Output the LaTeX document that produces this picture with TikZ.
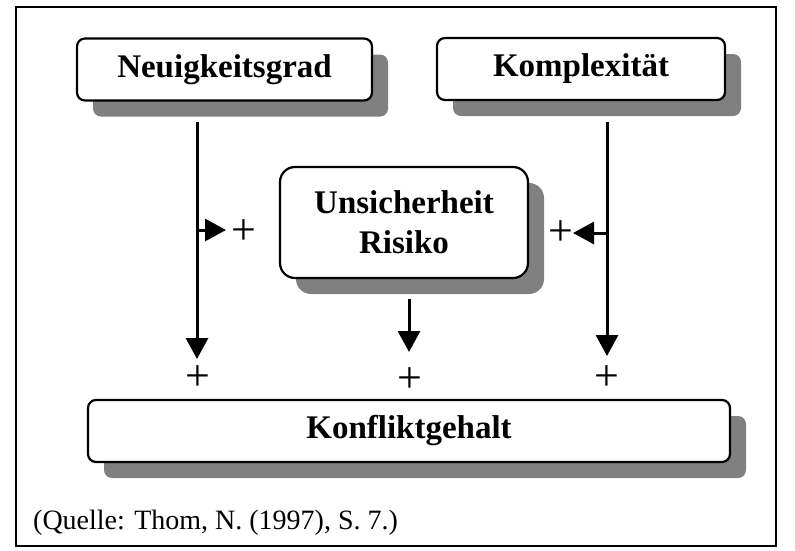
\documentclass[tikz,border=0pt]{standalone}
\usepackage{fontspec}
\setmainfont{Liberation Serif}
\usetikzlibrary{arrows.meta,positioning,shadows}
\tikzset{
  nb/.style={draw, fill=white, line width=2.2pt, rounded corners=8pt, align=center,
             font=\fontsize{33}{40}\selectfont\bfseries, inner sep=0pt,
             drop shadow={shadow xshift=16pt, shadow yshift=-16pt, fill=black!50, opacity=1}},
  nplus/.style={inner sep=0pt, font=\fontsize{44}{46}\selectfont},
  ar/.style={-{Triangle[length=21pt,width=22pt]}, line width=3pt},
}

\begin{document}
\begin{tikzpicture}[x=1pt,y=-1pt]
  \useasboundingbox (0,0) rectangle (795,550);
  \draw[line width=1.6pt] (16,7) rectangle (776,546);

  % boxes
  \node[nb, minimum width=295pt, minimum height=62pt] (neu) at (224.5,69.5) {Neuigkeitsgrad};
  \node[nb, minimum width=288pt, minimum height=62pt] (kom) at (581,69) {Komplexität};
  \node[nb, minimum width=248pt, minimum height=111pt, rounded corners=15pt] (uns) at (404,222.5) {Unsicherheit\\Risiko};
  \node[nb, minimum width=642pt, minimum height=62pt] (kon) at (409,431) {Konfliktgehalt};

  % arrow ends
  \coordinate (la) at (197,122);
  \coordinate (lb) at (197,359);
  \coordinate (ls) at (197,230);
  \coordinate (lt) at (226,230);
  \coordinate (ma) at (409,299);
  \coordinate (mb) at (409,352);
  \coordinate (ra) at (607,122);
  \coordinate (rb) at (607,356);
  \coordinate (rs) at (607,233);
  \coordinate (rt) at (573,233);

  \draw[ar] (la) -- (lb);
  \draw[ar] (ls) -- (lt);
  \draw[ar] (ma) -- (mb);
  \draw[ar] (ra) -- (rb);
  \draw[ar] (rs) -- (rt);

  % signs
  \node[nplus] (p1) at (198,378) {+};
  \node[nplus] (p2) at (410,380) {+};
  \node[nplus] (p3) at (607,378) {+};
  \node[nplus] (p4) at (244,232) {+};
  \node[nplus] (p5) at (561,233) {+};

  \node[anchor=base west, inner sep=0pt, font=\fontsize{28}{30}\selectfont] (src) at (33,529) {(Quelle: Thom, N. (1997), S. 7.)};
\end{tikzpicture}
\end{document}
